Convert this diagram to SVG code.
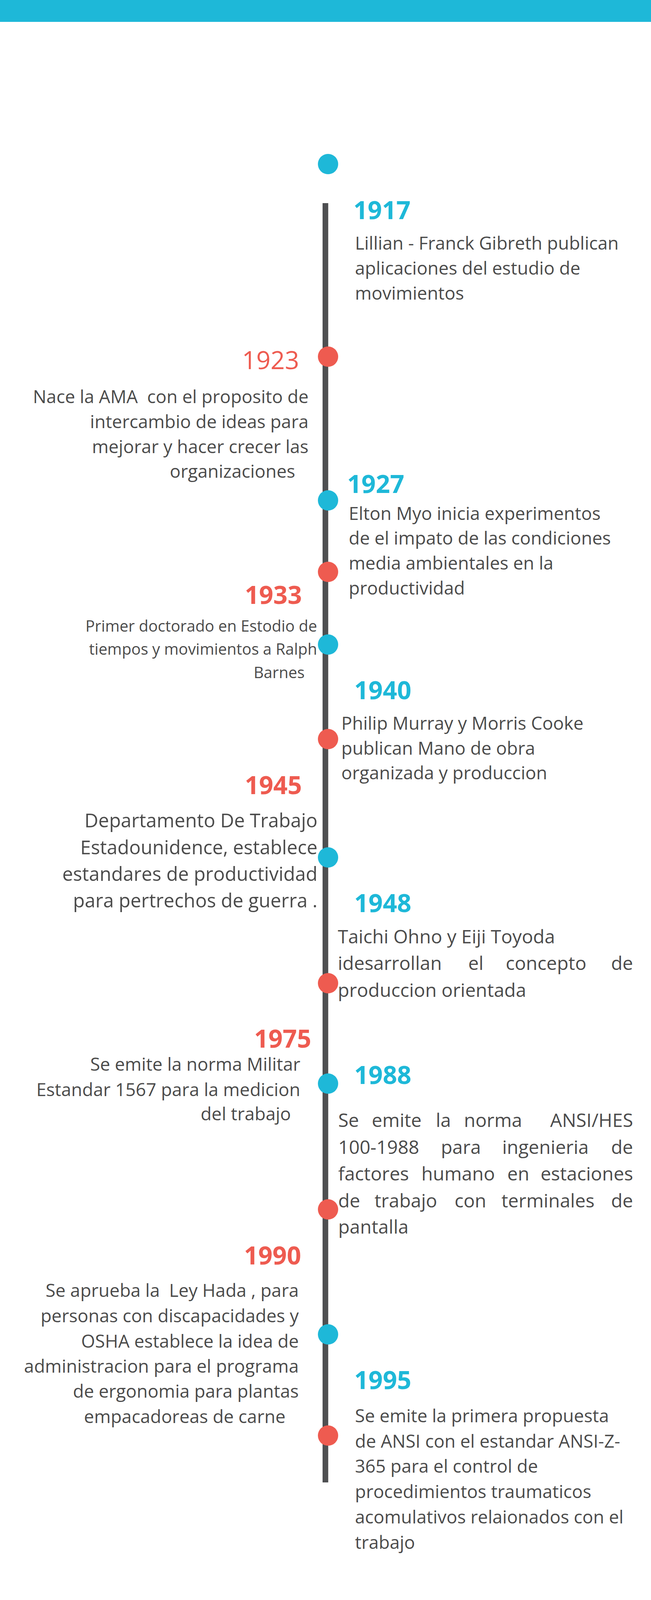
<svg xmlns="http://www.w3.org/2000/svg" width="1667" height="4167" viewBox="0 0 1667 4167">
<style>
.bar{fill:#1EB8D8}
.axis{fill:#4E4F51}
.db{fill:#1EB8D8}
.dr{fill:#EE5B50}
.yr{font-family:"Open Sans","Liberation Sans",sans-serif;font-size:64px;font-weight:700}
.yb{fill:#1EB8D8}
.yrd{fill:#EE5B50}
.reg{font-weight:400}
.t{font-family:"Open Sans","Liberation Sans",sans-serif;font-size:46px;fill:#4B4B4B;white-space:pre}
.t40{font-size:40px}
.t48{font-size:48px}
.t49{font-size:49px}
.e{text-anchor:end}
</style>
<rect class="bar" x="0" y="0" width="1667" height="56"/>
<rect class="bar" x="0" y="4111" width="1667" height="56"/>
<g id="connectors">
<rect class="axis" x="826" y="520" width="14.5" height="3275"/>
</g>
<g id="markers">
<circle class="db" cx="840" cy="420" r="26"/>
<circle class="dr" cx="840" cy="913" r="26"/>
<circle class="db" cx="840" cy="1281" r="26"/>
<circle class="dr" cx="840" cy="1464" r="26"/>
<circle class="db" cx="840" cy="1650" r="26"/>
<circle class="dr" cx="840" cy="1892" r="26"/>
<circle class="db" cx="840" cy="2195" r="26"/>
<circle class="dr" cx="840" cy="2517" r="26"/>
<circle class="db" cx="840" cy="2774" r="26"/>
<circle class="dr" cx="840" cy="3096" r="26"/>
<circle class="db" cx="840" cy="3416" r="26"/>
<circle class="dr" cx="840" cy="3675" r="26"/>
</g>
<g id="event-1917">
<text class="yr yb" x="905" y="561">1917</text>
<text class="t" x="909" y="639">Lillian - Franck Gibreth publican</text>
<text class="t" x="909" y="703">aplicaciones del estudio de</text>
<text class="t" x="909" y="767">movimientos</text>
</g>
<g id="event-1923">
<text class="yr yrd reg e" x="766" y="945">1923</text>
<text class="t e" x="790" y="1032">Nace la AMA  con el proposito de</text>
<text class="t e" x="790" y="1096">intercambio de ideas para</text>
<text class="t e" x="790" y="1160">mejorar y hacer crecer las</text>
<text class="t e" x="756" y="1223">organizaciones</text>
</g>
<g id="event-1927">
<text class="yr yb" x="889" y="1262">1927</text>
<text class="t" x="893" y="1331">Elton Myo inicia experimentos</text>
<text class="t" x="893" y="1394">de el impato de las condiciones</text>
<text class="t" x="893" y="1458">media ambientales en la</text>
<text class="t" x="893" y="1522">productividad</text>
</g>
<g id="event-1933">
<text class="yr yrd e" x="773" y="1546">1933</text>
<text class="t t40 e" x="812" y="1617">Primer doctorado en Estodio de</text>
<text class="t t40 e" x="812" y="1676">tiempos y movimientos a Ralph</text>
<text class="t t40 e" x="780" y="1736">Barnes</text>
</g>
<g id="event-1940">
<text class="yr yb" x="907" y="1790">1940</text>
<text class="t" x="874" y="1868">Philip Murray y Morris Cooke</text>
<text class="t" x="874" y="1932">publican Mano de obra</text>
<text class="t" x="874" y="1995">organizada y produccion</text>
</g>
<g id="event-1945">
<text class="yr yrd e" x="773" y="2033">1945</text>
<text class="t t49 e" x="813" y="2118">Departamento De Trabajo</text>
<text class="t t49 e" x="813" y="2187">Estadounidence, establece</text>
<text class="t t49 e" x="813" y="2255">estandares de productividad</text>
<text class="t t49 e" x="813" y="2323">para pertrechos de guerra .</text>
</g>
<g id="event-1948">
<text class="yr yb" x="907" y="2335">1948</text>
<text class="t t48" x="865" y="2415">Taichi Ohno y Eiji Toyoda</text>
<text class="t t48" y="2483"><tspan x="865">idesarrollan</tspan><tspan x="1199">el</tspan><tspan x="1295">concepto</tspan></text>
<text class="t t48 e" x="1621" y="2483">de</text>
<text class="t t48" x="865" y="2552">produccion orientada</text>
</g>
<g id="event-1975">
<text class="yr yrd e" x="797" y="2682">1975</text>
<text class="t e" x="769" y="2741">Se emite la norma Militar</text>
<text class="t e" x="769" y="2806">Estandar 1567 para la medicion</text>
<text class="t e" x="745" y="2868">del trabajo</text>
</g>
<g id="event-1988">
<text class="yr yb" x="907" y="2775">1988</text>
<text class="t t48" y="2885"><tspan x="866">Se</tspan><tspan x="952">emite</tspan><tspan x="1116">la</tspan><tspan x="1188">norma</tspan></text>
<text class="t t48 e" x="1621" y="2885">ANSI/HES</text>
<text class="t t48" y="2954"><tspan x="866">100-1988</tspan><tspan x="1129">para</tspan><tspan x="1286">ingenieria</tspan></text>
<text class="t t48 e" x="1621" y="2954">de</text>
<text class="t t48" y="3022"><tspan x="866">factores</tspan><tspan x="1079">humano</tspan><tspan x="1299">en</tspan></text>
<text class="t t48 e" x="1621" y="3022">estaciones</text>
<text class="t t48" y="3091"><tspan x="866">de</tspan><tspan x="959">trabajo</tspan><tspan x="1164">con</tspan><tspan x="1284">terminales</tspan></text>
<text class="t t48 e" x="1621" y="3091">de</text>
<text class="t t48" x="866" y="3158">pantalla</text>
</g>
<g id="event-1990">
<text class="yr yrd e" x="771" y="3237">1990</text>
<text class="t e" x="765" y="3320">Se aprueba la  Ley Hada , para</text>
<text class="t e" x="765" y="3385">personas con discapacidades y</text>
<text class="t e" x="765" y="3450">OSHA establece la idea de</text>
<text class="t e" x="765" y="3514">administracion para el programa</text>
<text class="t e" x="765" y="3578">de ergonomia para plantas</text>
<text class="t e" x="731" y="3643">empacadoreas de carne</text>
</g>
<g id="event-1995">
<text class="yr yb" x="907" y="3556">1995</text>
<text class="t" x="909" y="3641">Se emite la primera propuesta</text>
<text class="t" x="909" y="3706">de ANSI con el estandar ANSI-Z-</text>
<text class="t" x="909" y="3770">365 para el control de</text>
<text class="t" x="909" y="3835">procedimientos traumaticos</text>
<text class="t" x="909" y="3900">acomulativos relaionados con el</text>
<text class="t" x="909" y="3965">trabajo</text>
</g>
</svg>
